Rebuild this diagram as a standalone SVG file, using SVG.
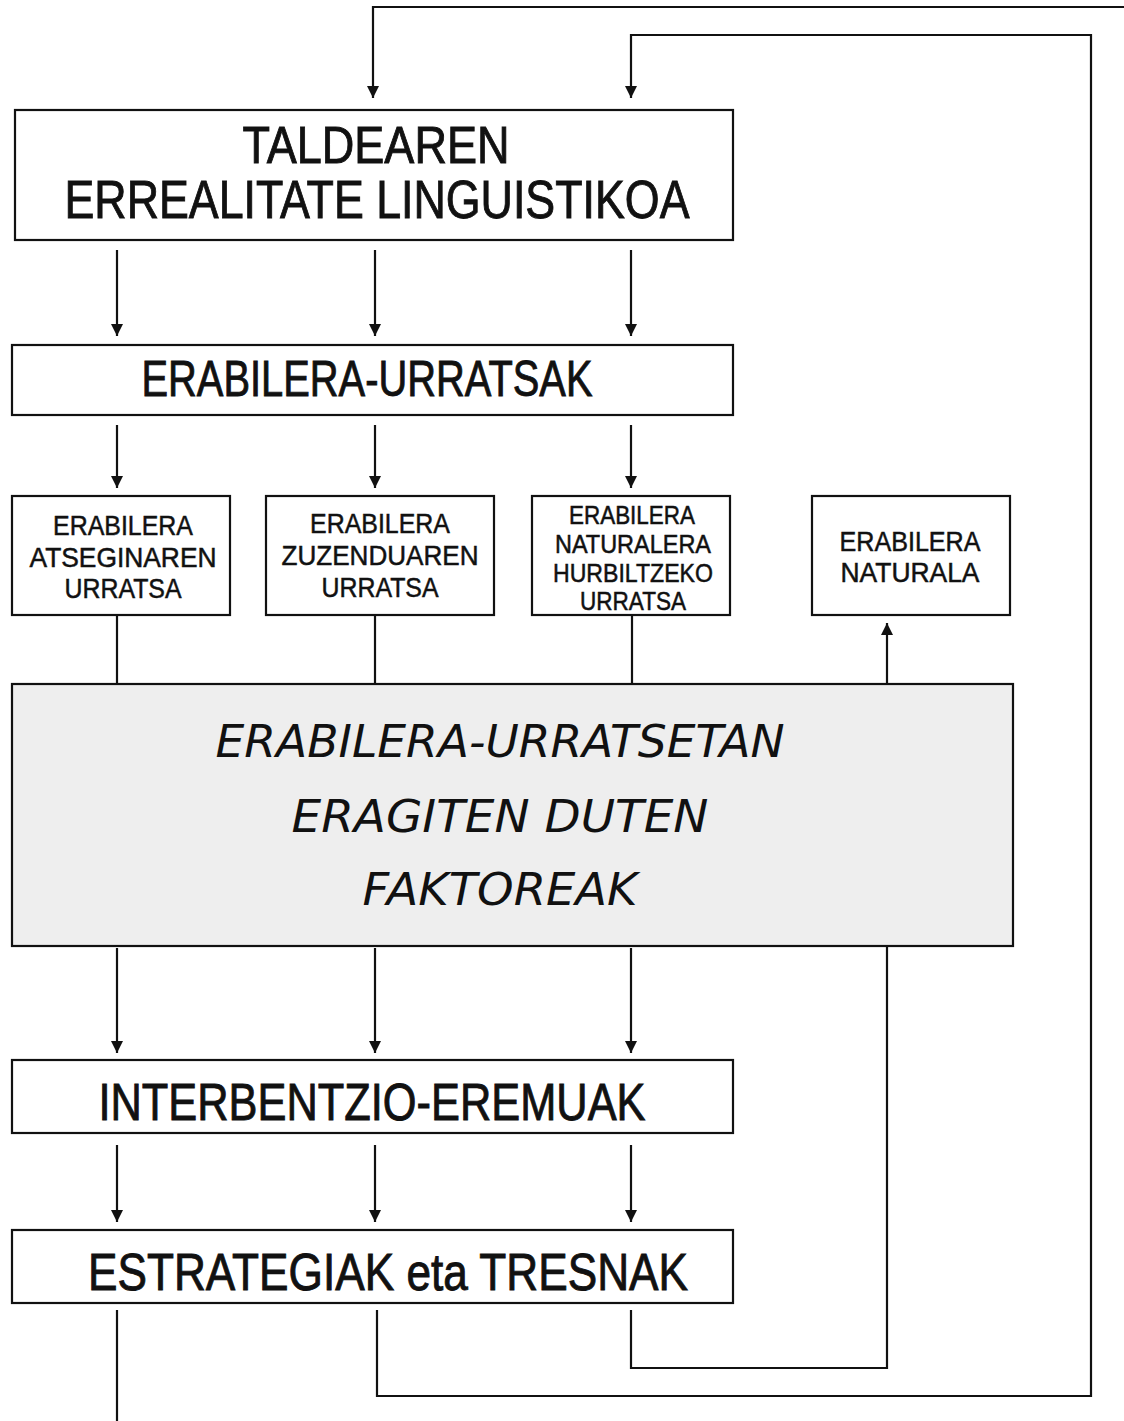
<svg xmlns="http://www.w3.org/2000/svg" width="1124" height="1421" viewBox="0 0 1124 1421">
<style>
.box{fill:#fff;stroke:#111;stroke-width:2.2}
.big{fill:#eeeeee;stroke:#111;stroke-width:2.2}
.ln{fill:none;stroke:#111;stroke-width:2.2}
.t{font-family:"Liberation Sans",Arial,sans-serif;fill:#111;stroke:#111;stroke-width:0.9;text-anchor:middle}
.s{font-family:"Liberation Sans",Arial,sans-serif;fill:#111;stroke:#111;stroke-width:0.5;text-anchor:middle}
.it{font-family:"DejaVu Sans","Liberation Sans",sans-serif;font-style:italic;fill:#111;text-anchor:middle}
</style>
<defs>
<marker id="ah" viewBox="0 0 12 16" refX="12" refY="8" markerWidth="12" markerHeight="16" markerUnits="userSpaceOnUse" orient="auto">
<path d="M0,2 L12,8 L0,14 Z" fill="#111"/>
</marker>
</defs>
<g id="connectors">
<path class="ln" d="M1124,7 H373 V98" marker-end="url(#ah)"/>
<path class="ln" d="M377,1310 V1396 H1091 V35 H631 V98" marker-end="url(#ah)"/>
<path class="ln" d="M631,1310 V1368 H887 V947"/>
<path class="ln" d="M117,1310 V1421"/>
<path class="ln" d="M117,250 V336" marker-end="url(#ah)"/>
<path class="ln" d="M375,250 V336" marker-end="url(#ah)"/>
<path class="ln" d="M631,250 V336" marker-end="url(#ah)"/>
<path class="ln" d="M117,425 V488" marker-end="url(#ah)"/>
<path class="ln" d="M375,425 V488" marker-end="url(#ah)"/>
<path class="ln" d="M631,425 V488" marker-end="url(#ah)"/>
<path class="ln" d="M117,616 V684"/>
<path class="ln" d="M375,616 V684"/>
<path class="ln" d="M632,616 V684"/>
<path class="ln" d="M887,684 V623" marker-end="url(#ah)"/>
<path class="ln" d="M117,948 V1053" marker-end="url(#ah)"/>
<path class="ln" d="M375,948 V1053" marker-end="url(#ah)"/>
<path class="ln" d="M631,948 V1053" marker-end="url(#ah)"/>
<path class="ln" d="M117,1145 V1222" marker-end="url(#ah)"/>
<path class="ln" d="M375,1145 V1222" marker-end="url(#ah)"/>
<path class="ln" d="M631,1145 V1222" marker-end="url(#ah)"/>
</g>
<g id="n-taldea">
<rect class="box" x="15" y="110" width="718" height="130"/>
<text class="t" x="376" y="163" font-size="52" textLength="267" lengthAdjust="spacingAndGlyphs">TALDEAREN</text>
<text class="t" x="377" y="218" font-size="53" textLength="625" lengthAdjust="spacingAndGlyphs">ERREALITATE LINGUISTIKOA</text>
</g>
<g id="n-urratsak">
<rect class="box" x="12" y="345" width="721" height="70"/>
<text class="t" x="367" y="396" font-size="50" textLength="451" lengthAdjust="spacingAndGlyphs">ERABILERA-URRATSAK</text>
</g>
<g id="n-atsegin">
<rect class="box" x="12" y="496" width="218" height="119"/>
<text class="s" x="123" y="535" font-size="28" textLength="140" lengthAdjust="spacingAndGlyphs">ERABILERA</text>
<text class="s" x="123" y="567" font-size="28" textLength="187" lengthAdjust="spacingAndGlyphs">ATSEGINAREN</text>
<text class="s" x="123" y="598" font-size="28" textLength="117" lengthAdjust="spacingAndGlyphs">URRATSA</text>
</g>
<g id="n-zuzendu">
<rect class="box" x="266" y="496" width="228" height="119"/>
<text class="s" x="380" y="533" font-size="28" textLength="140" lengthAdjust="spacingAndGlyphs">ERABILERA</text>
<text class="s" x="380" y="565" font-size="28" textLength="197" lengthAdjust="spacingAndGlyphs">ZUZENDUAREN</text>
<text class="s" x="380" y="597" font-size="28" textLength="117" lengthAdjust="spacingAndGlyphs">URRATSA</text>
</g>
<g id="n-hurbil">
<rect class="box" x="532" y="496" width="198" height="119"/>
<text class="s" x="632" y="524" font-size="25" textLength="126" lengthAdjust="spacingAndGlyphs">ERABILERA</text>
<text class="s" x="633" y="553" font-size="25" textLength="156" lengthAdjust="spacingAndGlyphs">NATURALERA</text>
<text class="s" x="633" y="582" font-size="25" textLength="160" lengthAdjust="spacingAndGlyphs">HURBILTZEKO</text>
<text class="s" x="633" y="610" font-size="25" textLength="106" lengthAdjust="spacingAndGlyphs">URRATSA</text>
</g>
<g id="n-naturala">
<rect class="box" x="812" y="496" width="198" height="119"/>
<text class="s" x="910" y="551" font-size="28" textLength="141" lengthAdjust="spacingAndGlyphs">ERABILERA</text>
<text class="s" x="910" y="582" font-size="28" textLength="139" lengthAdjust="spacingAndGlyphs">NATURALA</text>
</g>
<g id="n-faktoreak">
<rect class="big" x="12" y="684" width="1001" height="262"/>
<text class="it" x="500" y="757" font-size="44" textLength="569" lengthAdjust="spacingAndGlyphs">ERABILERA-URRATSETAN</text>
<text class="it" x="500" y="832" font-size="44" textLength="417" lengthAdjust="spacingAndGlyphs">ERAGITEN DUTEN</text>
<text class="it" x="500" y="905" font-size="44" textLength="275" lengthAdjust="spacingAndGlyphs">FAKTOREAK</text>
</g>
<g id="n-eremuak">
<rect class="box" x="12" y="1060" width="721" height="73"/>
<text class="t" x="372" y="1120" font-size="52" textLength="547" lengthAdjust="spacingAndGlyphs">INTERBENTZIO-EREMUAK</text>
</g>
<g id="n-estrategiak">
<rect class="box" x="12" y="1230" width="721" height="73"/>
<text class="t" x="388" y="1290" font-size="52" textLength="600" lengthAdjust="spacingAndGlyphs">ESTRATEGIAK eta TRESNAK</text>
</g>
</svg>
